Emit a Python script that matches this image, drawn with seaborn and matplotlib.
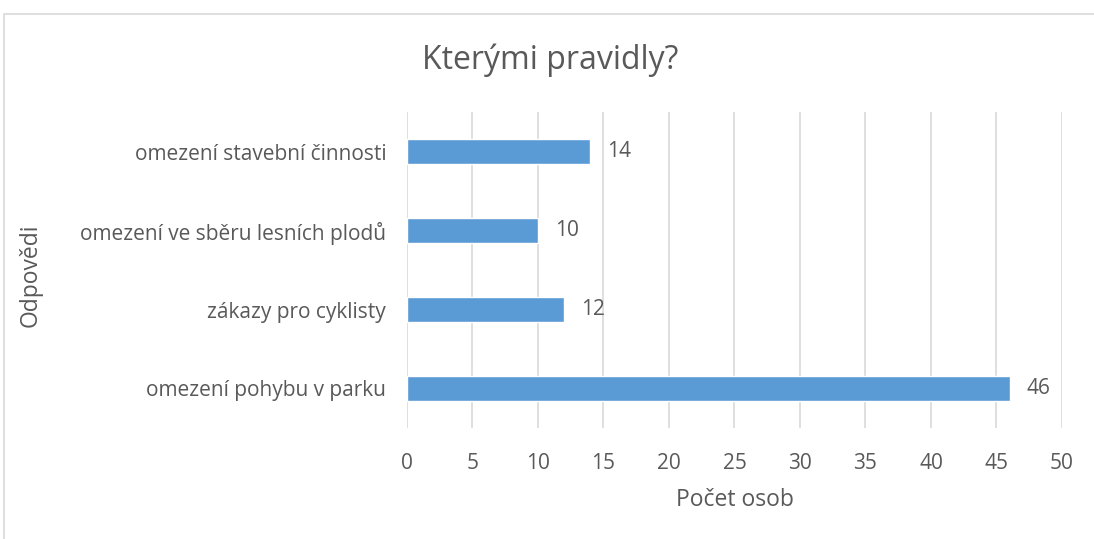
import matplotlib
matplotlib.use('Agg')
import matplotlib.pyplot as plt
import seaborn as sns
import pandas as pd
from matplotlib.patches import Rectangle

categories = ['omezení stavební činnosti', 'omezení ve sběru lesních plodů',
              'zákazy pro cyklisty', 'omezení pohybu v parku']
counts = [14, 10, 12, 46]
x_ticks = [0, 5, 10, 15, 20, 25, 30, 35, 40, 45, 50]

TEXT = '#595959'
BAR = '#5B9BD5'
GRID = '#D9D9D9'

sns.set_style('white')
plt.rcParams['font.family'] = ['Open Sans', 'DejaVu Sans']

df = pd.DataFrame({'kategorie': categories, 'pocet': counts})

fig = plt.figure(figsize=(10.94, 5.39), dpi=100)
ax = fig.add_axes([0.372, 0.206, 0.5987, 0.586])

sns.barplot(data=df, x='pocet', y='kategorie', color=BAR, width=0.32,
            saturation=1, ax=ax, zorder=3)

ax.set_xlim(0, 50)
ax.set_xticks(x_ticks)
ax.set_ylim(3.5, -0.5)
ax.grid(axis='x', color=GRID, linewidth=1.2, zorder=0)
for s in ax.spines.values():
    s.set_visible(False)
ax.tick_params(axis='both', length=0, labelsize=15, colors=TEXT)
ax.tick_params(axis='y', pad=15)
ax.tick_params(axis='x', pad=18)

for i, v in enumerate(counts):
    ax.annotate(str(v), xy=(v, i), xytext=(12, 0), textcoords='offset points',
                va='center', ha='left', fontsize=15, color=TEXT)

ax.set_xlabel('Počet osob', fontsize=16.5, color=TEXT, labelpad=10)
ax.set_ylabel('')
fig.text(31 / 1094, 1 - 275 / 539, 'Odpovědi', rotation=90, ha='center',
         va='center', fontsize=16.5, color=TEXT)
fig.text(0.503, 1 - 60 / 539, 'Kterými pravidly?', ha='center',
         va='center', fontsize=23, color=TEXT)

fig.patches.append(Rectangle((4 / 1094, -0.1), 1.2, 1 - 14 / 539 + 0.1,
                             transform=fig.transFigure, fill=False,
                             edgecolor='#D9D9D9', linewidth=1.2))

fig.savefig('out.png', dpi=100)
